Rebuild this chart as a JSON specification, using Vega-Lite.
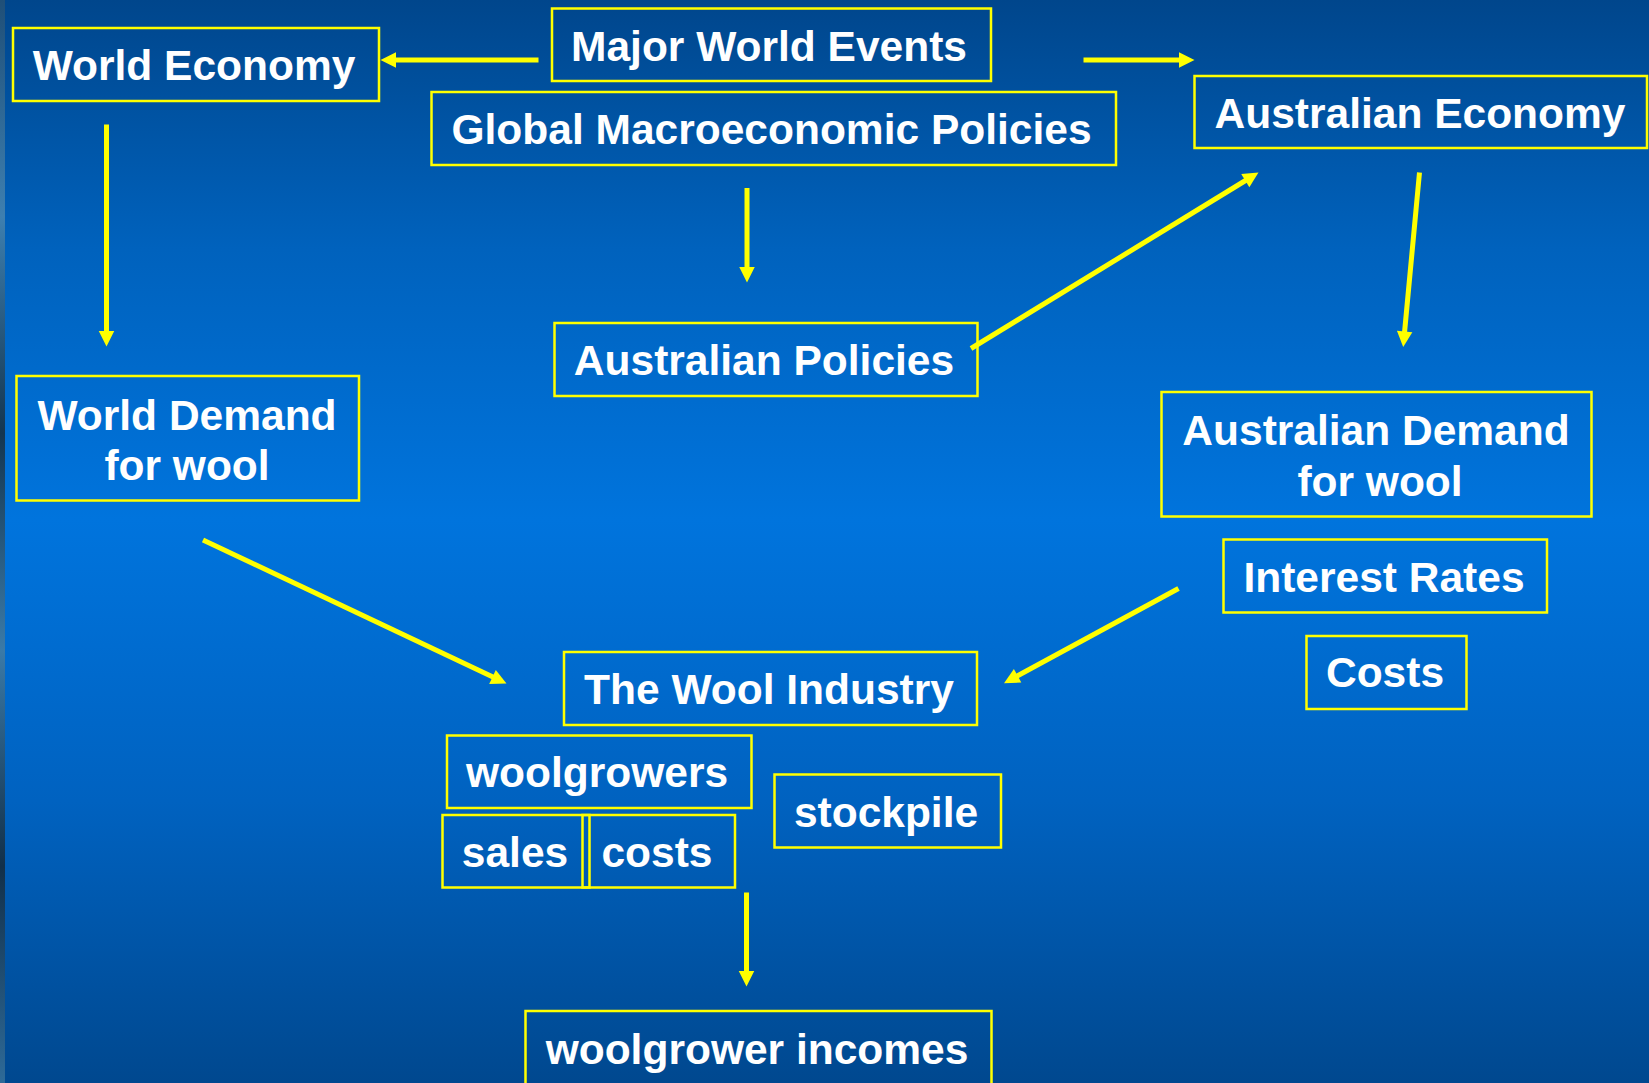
{
  "$schema": "https://vega.github.io/schema/vega-lite/v6.json",
  "width": 1649,
  "height": 1083,
  "padding": 0,
  "autosize": "none",
  "background": "#0068cc",
  "config": {"view": {"stroke": null}},
  "datasets": {
    "boxes": [
      {"label": "World Economy", "x1": 13, "x2": 379, "y1": 28, "y2": 101},
      {"label": "Major World Events", "x1": 552, "x2": 991, "y1": 8.5, "y2": 81},
      {"label": "Global Macroeconomic Policies", "x1": 431.5, "x2": 1116, "y1": 92, "y2": 165},
      {"label": "Australian Economy", "x1": 1194.5, "x2": 1647, "y1": 76, "y2": 148},
      {"label": "Australian Policies", "x1": 554.5, "x2": 977.5, "y1": 323, "y2": 396},
      {"label": "World Demand for wool", "x1": 16.5, "x2": 359, "y1": 376, "y2": 500.5},
      {"label": "Australian Demand for wool", "x1": 1161.5, "x2": 1591.5, "y1": 392, "y2": 516.5},
      {"label": "Interest Rates", "x1": 1223.5, "x2": 1547, "y1": 539.5, "y2": 612.5},
      {"label": "Costs", "x1": 1306.5, "x2": 1466.5, "y1": 636, "y2": 709},
      {"label": "The Wool Industry", "x1": 564, "x2": 977, "y1": 652, "y2": 725},
      {"label": "woolgrowers", "x1": 447, "x2": 751.5, "y1": 735.5, "y2": 808},
      {"label": "sales", "x1": 442.5, "x2": 589.5, "y1": 815, "y2": 887.5},
      {"label": "costs", "x1": 582.5, "x2": 735, "y1": 815, "y2": 887.5},
      {"label": "stockpile", "x1": 774.5, "x2": 1001, "y1": 774.5, "y2": 847.5},
      {"label": "woolgrower incomes", "x1": 525.5, "x2": 991.5, "y1": 1011, "y2": 1095}
    ],
    "texts": [
      {"text": "World Economy", "x": 194, "y": 80},
      {"text": "Major World Events", "x": 769, "y": 61},
      {"text": "Global Macroeconomic Policies", "x": 771.5, "y": 143.5},
      {"text": "Australian Economy", "x": 1420, "y": 128},
      {"text": "Australian Policies", "x": 764, "y": 375},
      {"text": "World Demand", "x": 187, "y": 429.5},
      {"text": "for wool", "x": 187, "y": 479.5},
      {"text": "Australian Demand", "x": 1376, "y": 444.5},
      {"text": "for wool", "x": 1380, "y": 495.5},
      {"text": "Interest Rates", "x": 1384, "y": 591.5},
      {"text": "Costs", "x": 1385, "y": 686.5},
      {"text": "The Wool Industry", "x": 769, "y": 703.5},
      {"text": "woolgrowers", "x": 597, "y": 786.5},
      {"text": "sales", "x": 515, "y": 866.5},
      {"text": "costs", "x": 657, "y": 866.5},
      {"text": "stockpile", "x": 886, "y": 826.5},
      {"text": "woolgrower incomes", "x": 757, "y": 1063.5}
    ],
    "arrows": [
      {"from": "Major World Events", "to": "World Economy", "tx": 538.5, "ty": 60, "ex": 392.5, "ey": 60, "hx": 380.5, "hy": 60, "angle": 270},
      {"from": "Major World Events", "to": "Australian Economy", "tx": 1083.5, "ty": 60, "ex": 1182.5, "ey": 60, "hx": 1194.5, "hy": 60, "angle": 90},
      {"from": "World Economy", "to": "World Demand for wool", "tx": 106.5, "ty": 124.5, "ex": 106.5, "ey": 334.5, "hx": 106.5, "hy": 346.5, "angle": 180},
      {"from": "Global Macroeconomic Policies", "to": "Australian Policies", "tx": 747, "ty": 188, "ex": 747, "ey": 270.5, "hx": 747, "hy": 282.5, "angle": 180},
      {"from": "Australian Policies", "to": "Australian Economy", "tx": 971, "ty": 348.5, "ex": 1248, "ey": 179, "hx": 1258.5, "hy": 172.5, "angle": 58.5},
      {"from": "Australian Economy", "to": "Australian Demand for wool", "tx": 1419.5, "ty": 172.5, "ex": 1404.3, "ey": 335, "hx": 1403.2, "hy": 347, "angle": 185.3},
      {"from": "World Demand for wool", "to": "The Wool Industry", "tx": 203, "ty": 540, "ex": 495.6, "ey": 678.2, "hx": 506.5, "hy": 683.5, "angle": 115.3},
      {"from": "Interest Rates", "to": "The Wool Industry", "tx": 1178.5, "ty": 588.5, "ex": 1014.5, "ey": 677.5, "hx": 1004, "hy": 683.2, "angle": 241.4},
      {"from": "sales / costs", "to": "woolgrower incomes", "tx": 746.5, "ty": 892.5, "ex": 746.5, "ey": 974.5, "hx": 746.5, "hy": 986.5, "angle": 180}
    ]
  },
  "layer": [
    {
      "data": {"values": [{"panel": "background"}]},
      "mark": {
        "type": "rect",
        "color": {
          "gradient": "linear", "x1": 0, "y1": 0, "x2": 0, "y2": 1,
          "stops": [
            {"offset": 0, "color": "#00468c"},
            {"offset": 0.23, "color": "#0062bd"},
            {"offset": 0.48, "color": "#0074dd"},
            {"offset": 0.74, "color": "#0062c0"},
            {"offset": 1, "color": "#00488f"}
          ]
        }
      },
      "encoding": {
        "x": {"datum": 0, "type": "quantitative", "scale": {"domain": [0, 1649], "nice": false, "zero": false}, "axis": null},
        "x2": {"datum": 1649},
        "y": {"datum": 0, "type": "quantitative", "scale": {"domain": [0, 1083], "nice": false, "zero": false, "reverse": true}, "axis": null},
        "y2": {"datum": 1083}
      }
    },
    {
      "data": {"values": [{"panel": "edge"}]},
      "mark": {
        "type": "rect",
        "color": {
          "gradient": "linear", "x1": 0, "y1": 0, "x2": 0, "y2": 1,
          "stops": [
            {"offset": 0, "color": "#1f4f78"},
            {"offset": 0.2, "color": "#3d7fb0"},
            {"offset": 0.4, "color": "#143650"},
            {"offset": 0.6, "color": "#3a7aa8"},
            {"offset": 0.8, "color": "#12304a"},
            {"offset": 1, "color": "#2e6a98"}
          ]
        }
      },
      "encoding": {
        "x": {"datum": 0, "type": "quantitative"},
        "x2": {"datum": 5},
        "y": {"datum": 0, "type": "quantitative"},
        "y2": {"datum": 1083}
      }
    },
    {
      "data": {"name": "boxes"},
      "mark": {"type": "rect", "fill": null, "fillOpacity": 0, "stroke": "#ffff00", "strokeWidth": 2.5},
      "encoding": {
        "x": {"field": "x1", "type": "quantitative"},
        "x2": {"field": "x2"},
        "y": {"field": "y1", "type": "quantitative"},
        "y2": {"field": "y2"}
      }
    },
    {
      "data": {"name": "arrows"},
      "mark": {"type": "rule", "color": "#ffff00", "strokeWidth": 5, "strokeCap": "butt"},
      "encoding": {
        "x": {"field": "tx", "type": "quantitative"},
        "y": {"field": "ty", "type": "quantitative"},
        "x2": {"field": "ex"},
        "y2": {"field": "ey"}
      }
    },
    {
      "data": {"name": "arrows"},
      "mark": {"type": "point", "shape": "M0,0L-1,2L1,2Z", "filled": true, "color": "#ffff00", "opacity": 1, "size": 240, "strokeWidth": 0},
      "encoding": {
        "x": {"field": "hx", "type": "quantitative"},
        "y": {"field": "hy", "type": "quantitative"},
        "angle": {"field": "angle", "type": "quantitative", "scale": null}
      }
    },
    {
      "data": {"name": "texts"},
      "mark": {"type": "text", "font": "Liberation Sans", "fontWeight": "bold", "fontSize": 42.5, "color": "#ffffff", "align": "center", "baseline": "alphabetic"},
      "encoding": {
        "x": {"field": "x", "type": "quantitative"},
        "y": {"field": "y", "type": "quantitative"},
        "text": {"field": "text"}
      }
    }
  ]
}
